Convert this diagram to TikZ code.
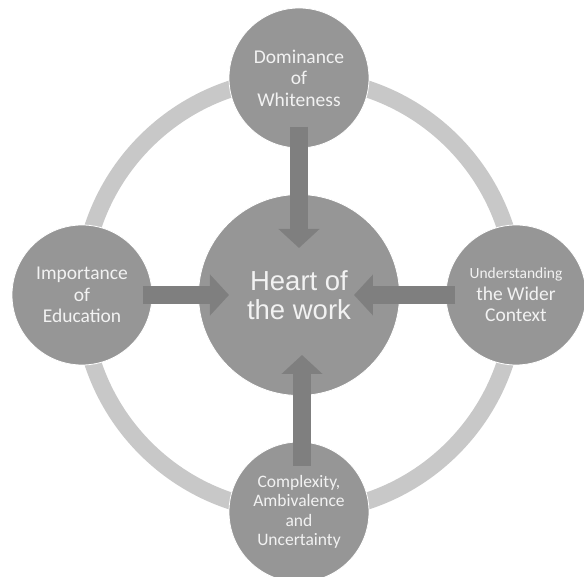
\documentclass[tikz,border=0pt]{standalone}
\usepackage{fontspec}
\setmainfont{Carlito}
\newfontfamily\heartfont{Liberation Sans}
\usetikzlibrary{arrows.meta}
\definecolor{discgray}{HTML}{969696}
\definecolor{ringgray}{HTML}{C8C8C8}
\definecolor{arrowgray}{HTML}{7F7F7F}
\definecolor{textwhite}{HTML}{F2F2F2}

\begin{document}
\begin{tikzpicture}[x=1pt,y=1pt]
\tikzstyle{every node}=[circle, draw=white, line width=0.8pt, fill=discgray, text=textwhite, align=center, inner sep=0pt]
\tikzstyle{disc}=[minimum size=140pt, font=\fontsize{19.5}{21.5}\selectfont]
\tikzstyle{flow}=[line width=18pt, draw=arrowgray, -{Triangle[width=40pt,length=19pt]}]
\useasboundingbox (-299,-282) rectangle (285,295);
\draw (0,0) node (heart) [minimum size=201pt, font=\heartfont\fontsize{27.5}{28.5}\selectfont] {Heart of\\the work};
% ring behind the four outer discs
\draw[ringgray, line width=17pt] (heart.center) circle (217);
\draw (90:217) node (dom) [disc] {Dominance\\of\\Whiteness};
\draw (180:217) node (edu) [disc] {Importance\\of\\Education};
\draw (0:217) node (wider) [disc] {{\fontsize{15.5}{21.5}\selectfont Understanding}\\the Wider\\Context};
\draw (270:217) node (comp) [disc, font=\fontsize{17.5}{19.5}\selectfont] {Complexity,\\Ambivalence\\and\\Uncertainty};
\draw[flow, shorten <=49pt, shorten >=47pt] (dom.center) -- (heart.center);
\draw[flow, shorten <=61pt, shorten >=70pt] (edu.center) -- (heart.center);
\draw[flow, shorten <=61pt, shorten >=55pt] (wider.center) -- (heart.center);
\draw[flow, shorten <=46pt, shorten >=60pt] ([xshift=3pt]comp.center) -- ([xshift=3pt]heart.center);
\end{tikzpicture}
\end{document}
